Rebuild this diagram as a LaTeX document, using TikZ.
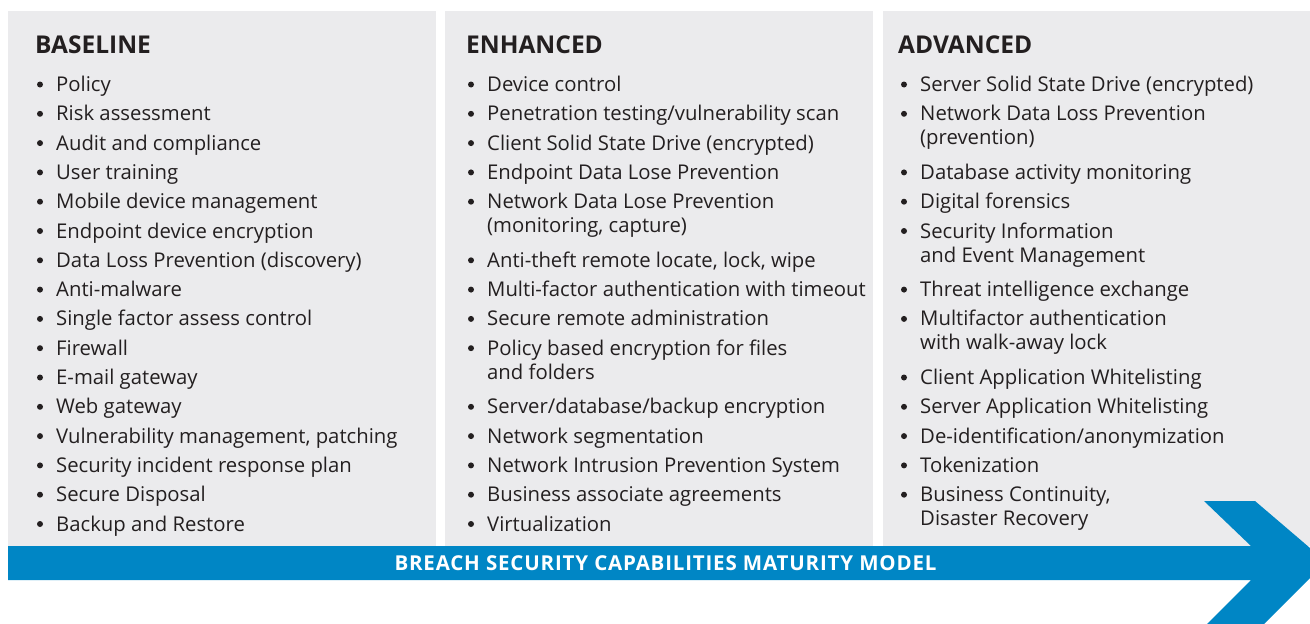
\documentclass[tikz,border=0pt]{standalone}
\usepackage{fontspec}
\setmainfont{Open Sans}
\definecolor{panelgray}{HTML}{EBEBED}
\definecolor{dellblue}{HTML}{0086C5}
\definecolor{inktext}{HTML}{231F20}
\tikzset{
  panel/.style={fill=panelgray, draw=none},
  heading/.style={anchor=base west, inner sep=0pt, font=\bfseries\fontsize{24.5}{30}\selectfont, text=inktext},
  itemtext/.style={anchor=base west, inner sep=0pt, font=\fontsize{20.3}{24}\selectfont, text=inktext},
  bulletdot/.style={circle, fill=inktext, inner sep=0pt, minimum size=6pt},
  bandtext/.style={anchor=base, inner sep=0pt, font=\bfseries\fontsize{20.5}{24}\selectfont\addfontfeature{LetterSpace=4}, text=white},
  bandarrow/.style={fill=dellblue, draw=none}
}
\newcommand\capitem[4]{%
  \node[bulletdot] (#1dot) at ({#2-16}, {84.5+29.3*#3}) {};
  \node[itemtext] (#1) at (#2, {91.5+29.3*#3}) {#4};
}
\newcommand\capitemtwo[5]{%
  \node[bulletdot] (#1dot) at ({#2-16}, {84.5+29.3*#3}) {};
  \node[itemtext] (#1) at (#2, {91.5+29.3*#3}) {#4};
  \node[itemtext] (#1b) at (#2, {115.5+29.3*#3}) {#5};
}
\begin{document}
\begin{tikzpicture}[x=1pt, y=-1pt]
\useasboundingbox (0,0) rectangle (1310,624);
% panels
\fill[panel] (8,11) rectangle (436,546);
\fill[panel] (445,11) rectangle (873,546);
\fill[panel] (883,11) rectangle (1310,546);
% arrow band
\fill[bandarrow] (8,546) -- (1251,546) -- (1204,501) -- (1255,501) -- (1310,548)
  -- (1310,578) -- (1264,624) -- (1207,624) -- (1251,580) -- (8,580) -- cycle;
\node[bandtext] (bandlabel) at (665.5,570.5) {BREACH SECURITY CAPABILITIES MATURITY MODEL};
% headings
\node[heading] (hbase) at (35,53.3) {BASELINE};
\node[heading] (henh) at (466,53.3) {ENHANCED};
\node[heading] (hadv) at (898,53.3) {ADVANCED};
% baseline column
\capitem{ba}{56}{0}{Policy}
\capitem{bb}{56}{1}{Risk assessment}
\capitem{bc}{56}{2}{Audit and compliance}
\capitem{bd}{56}{3}{User training}
\capitem{be}{56}{4}{Mobile device management}
\capitem{bf}{56}{5}{Endpoint device encryption}
\capitem{bg}{56}{6}{Data Loss Prevention (discovery)}
\capitem{bh}{56}{7}{Anti-malware}
\capitem{bi}{56}{8}{Single factor assess control}
\capitem{bj}{56}{9}{Firewall}
\capitem{bk}{56}{10}{E-mail gateway}
\capitem{bl}{56}{11}{Web gateway}
\capitem{bm}{56}{12}{Vulnerability management, patching}
\capitem{bn}{56}{13}{Security incident response plan}
\capitem{bo}{56}{14}{Secure Disposal}
\capitem{bp}{56}{15}{Backup and Restore}
% enhanced column
\capitem{ea}{487}{0}{Device control}
\capitem{eb}{487}{1}{Penetration testing/vulnerability scan}
\capitem{ec}{487}{2}{Client Solid State Drive (encrypted)}
\capitem{ed}{487}{3}{Endpoint Data Lose Prevention}
\capitemtwo{ee}{487}{4}{Network Data Lose Prevention}{(monitoring, capture)}
\capitem{ef}{487}{6}{Anti-theft remote locate, lock, wipe}
\capitem{eg}{487}{7}{Multi-factor authentication with timeout}
\capitem{eh}{487}{8}{Secure remote administration}
\capitemtwo{ei}{487}{9}{Policy based encryption for files}{and folders}
\capitem{ej}{487}{11}{Server/database/backup encryption}
\capitem{ek}{487}{12}{Network segmentation}
\capitem{el}{487}{13}{Network Intrusion Prevention System}
\capitem{em}{487}{14}{Business associate agreements}
\capitem{en}{487}{15}{Virtualization}
% advanced column
\capitem{aa}{920}{0}{Server Solid State Drive (encrypted)}
\capitemtwo{ab}{920}{1}{Network Data Loss Prevention}{(prevention)}
\capitem{ac}{920}{3}{Database activity monitoring}
\capitem{ad}{920}{4}{Digital forensics}
\capitemtwo{ae}{920}{5}{Security Information}{and Event Management}
\capitem{af}{920}{7}{Threat intelligence exchange}
\capitemtwo{ag}{920}{8}{Multifactor authentication}{with walk-away lock}
\capitem{ah}{920}{10}{Client Application Whitelisting}
\capitem{ai}{920}{11}{Server Application Whitelisting}
\capitem{aj}{920}{12}{De-identification/anonymization}
\capitem{ak}{920}{13}{Tokenization}
\capitemtwo{al}{920}{14}{Business Continuity,}{Disaster Recovery}
\end{tikzpicture}
\end{document}
